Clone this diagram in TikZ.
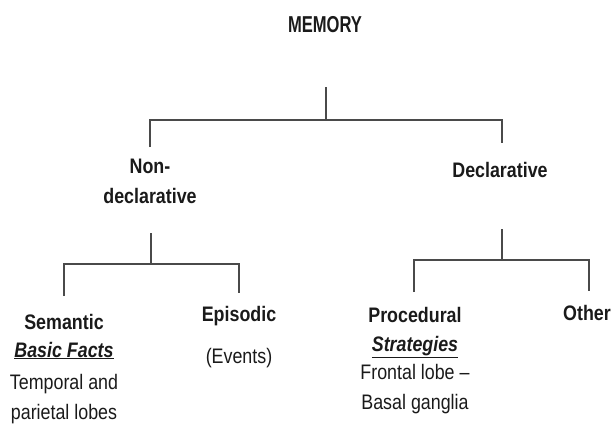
\documentclass[tikz,border=0pt]{standalone}
\usepackage{fontspec}
\setmainfont{Liberation Sans}[FakeStretch=0.85]
\newfontfamily\memfont{Liberation Sans}[FakeStretch=0.72]
\definecolor{inkc}{HTML}{1A1A1A}
\definecolor{linec}{HTML}{4A4A4A}
\begin{document}
\begin{tikzpicture}[x=1pt,y=-1pt,
  lbl/.style={inner sep=0pt, anchor=base, text=inkc, font=\fontsize{21}{25}\selectfont\bfseries},
  sub/.style={inner sep=0pt, anchor=base, text=inkc, font=\fontsize{21}{25}\selectfont},
  branch/.style={draw=linec, line width=1.5pt}]
\useasboundingbox (0,0) rectangle (611,424);
% top level
\node[inner sep=0pt, anchor=base, text=inkc, font=\fontsize{23}{27}\memfont\bfseries] (mem) at (325,32) {MEMORY};
\node[lbl] (nd1) at (150,173) {Non-};
\node[lbl] (nd2) at (150,203) {declarative};
\node[lbl] (dec) at (500,177) {Declarative};
% bottom left
\node[lbl] (sem1) at (64,329) {Semantic};
\node[lbl] (sem2) at (64,357) {\underline{\itshape Basic Facts}};
\node[sub] (sem3) at (64,389) {Temporal and};
\node[sub] (sem4) at (64,419) {parietal lobes};
\node[lbl] (epi1) at (239,321) {Episodic};
\node[sub] (epi2) at (239,363) {(Events)};
% bottom right
\node[lbl] (pro1) at (415,322) {Procedural};
\node[lbl] (pro2) at (415,351) {\underline{\itshape Strategies}};
\node[sub] (pro3) at (415,379) {Frontal lobe –};
\node[sub] (pro4) at (415,409) {Basal ganglia};
\node[lbl] (oth) at (587,320) {Other};
% connector coordinates
\coordinate (m0) at (326,87);
\coordinate (m1) at (326,120);
\coordinate (ndt) at (150,147);
\coordinate (dect) at (502,143);
\coordinate (n0) at (151,233);
\coordinate (n1) at (151,264);
\coordinate (semt) at (64,296);
\coordinate (epit) at (239,293);
\coordinate (d0) at (502,229);
\coordinate (d1) at (502,260);
\coordinate (prot) at (414,292);
\coordinate (otht) at (589,291);
% connectors
\draw[branch] (m0) -- (m1);
\draw[branch] (ndt) |- (m1) -| (dect);
\draw[branch] (n0) -- (n1);
\draw[branch] (semt) |- (n1) -| (epit);
\draw[branch] (d0) -- (d1);
\draw[branch] (prot) |- (d1) -| (otht);
\end{tikzpicture}
\end{document}
